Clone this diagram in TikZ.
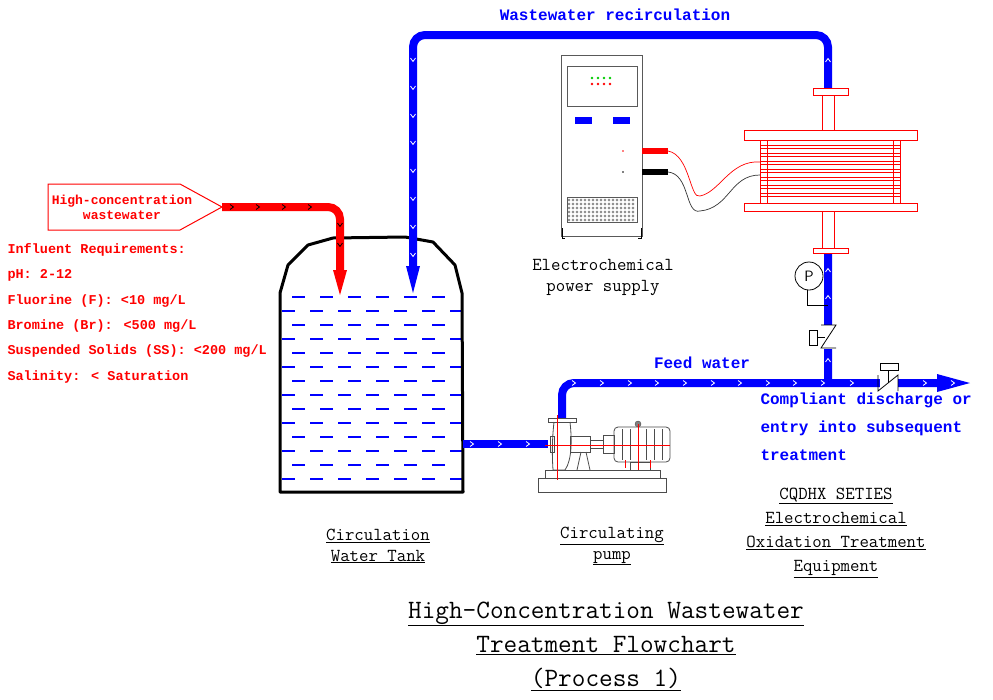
\documentclass[tikz,border=0pt]{standalone}
\usepackage{fontspec}
\setmainfont{Liberation Mono}
\usetikzlibrary{arrows.meta}
\definecolor{pipeblue}{RGB}{0, 0, 255}
\definecolor{pipered}{RGB}{255, 0, 0}
\tikzset{
  bluepipe/.style={pipeblue, line width=8pt, rounded corners=12pt},
  redpipe/.style={pipered, line width=8pt, rounded corners=12pt},
  chev/.style={white, line width=0.8pt},
  redline/.style={pipered, line width=0.8pt},
  water/.style={pipeblue, line width=1.3pt},
  lbl/.style={font=\ttfamily\fontsize{18.3}{21}\selectfont, align=center},
}
\newcommand{\chevx}[3]{\draw[#3] (#1-2,#2-2.5) -- (#1+1.5,#2) -- (#1-2,#2+2.5);}
\newcommand{\chevy}[3]{\draw[#3] (#1-2.5,#2-2) -- (#1,#2+1.5) -- (#1+2.5,#2-2);}
\newcommand{\chevu}[3]{\draw[#3] (#1-2.5,#2+2) -- (#1,#2-1.5) -- (#1+2.5,#2+2);}
\begin{document}
\begin{tikzpicture}[x=1pt, y=-1pt]
  \useasboundingbox[fill=white] (0,0) rectangle (993,699);

  % tank
  \foreach \r in {0,...,6} {
    \foreach \c in {0,...,5} {
      \draw[water] (292+28*\c,297+28*\r) -- +(13,0);
    }
    \foreach \c in {0,...,6} {
      \draw[water] (282+28*\c,311+28*\r) -- +(13,0);
    }
  }
  \draw[line width=3pt, line join=round] (280,293) -- (288,265) -- (308,245) -- (333,238)
    -- (405,237) -- (433,242) -- (455,265) -- (462,293) -- (463,492) -- (280,492) -- cycle;

  % red influent
  \draw[pipered, fill=white, line width=1pt] (48,184) -- (180,184) -- (222,207) -- (180,230) -- (48,230) -- cycle;
  \node[pipered, font=\fontsize{13}{15}\bfseries\selectfont, align=center] (inlet) at (122,207) {High-concentration\\wastewater};
  \draw[redpipe] (222,207) -- (340,207) -- (340,270);
  \fill[pipered] (333,270) -- (347,270) -- (340,295) -- cycle;
  \foreach \x in {232,258,284,310} {\chevx{\x}{207}{black, line width=0.8pt}}
  \foreach \y in {225,245} {\chevy{340}{\y}{black, line width=0.8pt}}
  \node[pipered, anchor=north west, font=\fontsize{13.5}{25.3}\bfseries\selectfont, align=left] (reqs) at (4,240)
    {Influent Requirements:\\pH: 2-12\\Fluorine (F): <10 mg/L\\Bromine (Br): <500 mg/L\\Suspended Solids (SS): <200 mg/L\\Salinity: < Saturation};

  % recirculation
  \draw[bluepipe] (828,383) -- (828,35) -- (413,35) -- (413,268);
  \fill[pipeblue] (406,266) -- (420,266) -- (413,293) -- cycle;
  \foreach \y in {60,88,116,143,171,199,227,255} {\chevy{413}{\y}{chev}}
  \chevu{828}{60}{chev}
  \node[pipeblue, font=\fontsize{16}{18}\bfseries\selectfont] (recirc) at (615,15) {Wastewater recirculation};

  % reactor
  \fill[white] (820,88) rectangle (836,253);
  \draw[redline, fill=white] (822,95) rectangle (834,130);
  \draw[redline, fill=white] (813,88) rectangle (848,95);
  \draw[redline, fill=white] (822,211) rectangle (834,250);
  \draw[redline, fill=white] (813,248) rectangle (848,253);
  \draw[redline, fill=white] (744,130) rectangle (917,140);
  \draw[redline, fill=white] (744,203) rectangle (917,211);
  \draw[redline] (760,140) rectangle (900,203);
  \foreach \y in {145,153,161,169,177,185,193} {
    \draw[redline] (760,\y) -- (900,\y);
    \draw[redline] (760,\y+3) -- (900,\y+3);
  }
  \foreach \x in {767,893} {\draw[pipered, line width=0.4pt] (\x,140) -- (\x,203);}
  \foreach \y in {270,297,360} {\chevu{828}{\y}{chev}}

  % power supply
  \draw[gray!70!black, line width=0.8pt] (561,55) rectangle (642,236);
  \draw[gray!70!black, line width=0.8pt] (567,66) rectangle (637,106);
  \foreach \x in {592,598,604,610} {
    \fill[green!80!black] (\x,78) circle (1.3);
    \fill[pipered] (\x,84) circle (1.3);
  }
  \fill[pipeblue] (575,117) rectangle (592,124);
  \fill[pipeblue] (613,117) rectangle (630,124);
  \fill[pipered] (623,151) circle (0.8);
  \fill[black] (623,172) circle (0.8);
  \draw[gray!70!black] (567,197) rectangle (637,222);
  \foreach \x in {569,573,...,635} {
    \foreach \y in {200,204,...,220} {
      \draw[gray!70!black, line width=0.3pt] (\x,\y) circle (1.2);
    }
  }
  \draw[black, line width=1pt] (562,228) -- (562,238) -- (565,238);
  \draw[black, line width=1pt] (641,228) -- (641,238) -- (638,238);
  \fill[pipered] (642,148) rectangle (668,154);
  \fill[black] (642,169) rectangle (668,175);
  \draw[pipered, line width=0.7pt] (668,151) .. controls (690,155) and (690,200) .. (700,196)
    .. controls (720,192) and (730,160) .. (760,162);
  \draw[black!80, line width=0.7pt] (668,172) .. controls (690,174) and (685,215) .. (700,211)
    .. controls (730,208) and (730,175) .. (760,175);
  \node[lbl] (psu) at (603,277) {Electrochemical\\power supply};

  % gauge and valve
  \draw[line width=0.8pt, fill=white] (809,276) circle (14);
  \node[font=\sffamily\fontsize{15}{15}\selectfont] (gauge) at (809,276) {P};
  \draw[line width=0.8pt] (807,290) -- (807,305) -- (828,305);
  \fill[white] (820,325) rectangle (836,349);
  \draw[line width=0.8pt] (821,325) -- (836,325) -- (821,348) -- (836,348);
  \draw[line width=0.6pt] (809,330) rectangle (817,345);
  \draw[line width=0.6pt] (817,337) -- (825,337);

  % feed water line
  \draw[bluepipe] (562,418) -- (562,383) -- (940,383);
  \fill[pipeblue] (937,374) -- (970,383) -- (937,392) -- cycle;
  \foreach \x in {574,602,630,657,685,713,740,768,795,823,852,925,953} {\chevx{\x}{383}{chev}}
  \fill[white] (880,376) rectangle (898,391);
  \draw[line width=0.8pt] (878,375) -- (878,391) -- (898,375) -- (898,391);
  \draw[line width=0.6pt] (880,363) rectangle (898,370);
  \draw[line width=0.6pt] (888,370) -- (888,383);
  \node[pipeblue, font=\fontsize{16}{18}\bfseries\selectfont] (feed) at (702,363) {Feed water};
  \node[pipeblue, anchor=north west, font=\fontsize{16}{28}\bfseries\selectfont, align=left] (out) at (757,389)
    {Compliant discharge or\\entry into subsequent\\treatment};

  % tank to pump
  \draw[bluepipe] (463,444) -- (548,444);
  \foreach \x in {472,500,528} {\chevx{\x}{444}{chev}}

  % pump
  \draw[gray!60!black, line width=0.8pt] (538,478) rectangle (666,492);
  \draw[gray!60!black, line width=0.8pt] (545,470) rectangle (660,478);
  \draw[gray!60!black, line width=0.8pt] (548,418) rectangle (576,422);
  \draw[gray!60!black, line width=0.8pt] (550,436) rectangle (554,452);
  \draw[gray!60!black, line width=0.8pt] (554,422) .. controls (552,440) and (552,455) .. (553,470)
    -- (565,470) .. controls (572,460) and (572,440) .. (570,422);
  \draw[gray!60!black, line width=0.8pt] (570,436) rectangle (590,452);
  \draw[gray!60!black, line width=0.8pt] (590,440) rectangle (603,448);
  \draw[gray!60!black, line width=0.8pt] (603,435) rectangle (614,453);
  \draw[gray!60!black, line width=0.8pt, rounded corners=4pt] (614,427) rectangle (670,462);
  \foreach \x in {622,630,...,662} {\draw[gray!60!black, line width=0.4pt] (\x,429) -- (\x,460);}
  \draw[gray!60!black, line width=0.8pt] (630,462) rectangle (650,470);
  \draw[gray!60!black, line width=0.8pt] (581,452) -- (577,470);
  \draw[gray!60!black, line width=0.8pt] (586,452) -- (590,470);
  \draw[gray!60!black, fill=gray] (638,424) circle (3);
  \draw[pipered, line width=0.6pt] (545,445) -- (670,445);
  \draw[pipered, line width=0.6pt] (557,415) -- (557,480);
  \draw[pipered, line width=0.6pt] (638,424) -- (638,470);
  \foreach \x in {625,650} {\draw[pipered, line width=0.6pt] (\x,460) -- (\x,468);}

  % labels
  \node[lbl] (tank) at (378,546) {\underline{Circulation}\\\underline{Water Tank}};
  \node[lbl] (pumpl) at (612,546) {\underline{Circulating}\\\underline{pump}};
  \node[lbl, font=\ttfamily\fontsize{18.3}{24}\selectfont] (equip) at (836,533)
    {\underline{CQDHX SETIES}\\\underline{Electrochemical}\\\underline{Oxidation Treatment}\\\underline{Equipment}};
  \node[align=center, font=\ttfamily\fontsize{26.5}{34}\selectfont] (title) at (606,646)
    {\underline{High-Concentration Wastewater}\\\underline{Treatment Flowchart}\\\underline{(Process 1)}};
\end{tikzpicture}
\end{document}
